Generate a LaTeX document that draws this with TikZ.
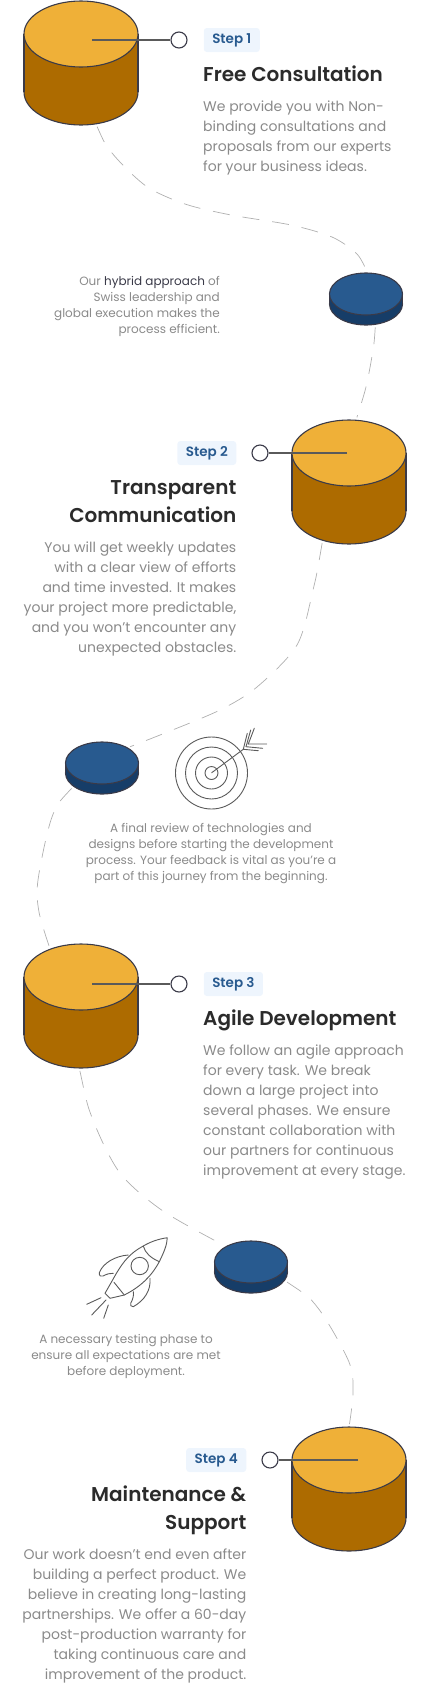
\documentclass[tikz,border=0pt]{standalone}
\usepackage{fontspec}
\setmainfont{Poppins}
\newfontfamily\semifont{Poppins SemiBold}
\usetikzlibrary{positioning,shapes.geometric}
\definecolor{sun}{HTML}{EFB038}
\definecolor{ochre}{HTML}{AD6B00}
\definecolor{sea}{HTML}{285A8F}
\definecolor{navy}{HTML}{163D68}
\definecolor{ink}{HTML}{3A3A48}
\definecolor{pale}{HTML}{EEF5FD}
\definecolor{copy}{HTML}{8A8A8A}
\definecolor{head}{HTML}{2B2B2B}
\definecolor{sketch}{HTML}{5A5A5A}
\definecolor{dashgrey}{HTML}{B0B0B0}
\begin{document}
\begin{tikzpicture}
[x=1pt, y=-1pt]
\tikzstyle{drum}=[ellipse, draw=ink, line width=1.1pt, inner sep=0pt, outer sep=0pt, minimum width=114pt, minimum height=66pt]
\tikzstyle{disc}=[ellipse, draw=ink, line width=1.1pt, inner sep=0pt, outer sep=0pt, minimum width=73pt, minimum height=42pt]
\tikzstyle{ring}=[circle, draw=ink, fill=white, line width=1.1pt, inner sep=0pt, minimum size=16pt]
\tikzstyle{badge}=[fill=pale, rounded corners=3pt, text=sea, inner xsep=8.5pt, inner ysep=0pt, minimum height=24pt, font=\semifont\fontsize{13.5}{16}\selectfont]
\tikzstyle{title}=[text=head, inner sep=0pt, font=\semifont\fontsize{20}{28}\selectfont]
\tikzstyle{copytext}=[text=copy, inner sep=0pt, font=\fontsize{14}{20}\selectfont]
\tikzstyle{note}=[text=copy, inner sep=0pt, font=\fontsize{12}{16}\selectfont]
\tikzstyle{trail}=[draw=dashgrey, line width=.7pt, dash pattern=on 17pt off 13pt, shorten <=3pt, shorten >=3pt]
\tikzstyle{leader}=[draw=sketch, line width=1.4pt]
\tikzstyle{sketchline}=[draw=sketch, line width=.9pt, line join=round, line cap=round]

\useasboundingbox (0,0) rectangle (430,1684);

\foreach \n/\x/\y in {A/81/34, B/349/453, C/81/977, D/349/1460}{
	\node[drum, fill=ochre]	(foot\n)	at (\x,\y+58)	{};
	\node[drum, fill=sun, draw=none]	(top\n)	at (\x,\y)	{};
	\fill[ochre] (foot\n.west) rectangle (top\n.east);
	\draw[draw=ink, line width=1.1pt] (foot\n.west)--(top\n.west) (foot\n.east)--(top\n.east);
	\node[drum, fill=sun]	at (\x,\y)	{};
}
\foreach \n/\x/\y in {A/366/294, B/102/763, C/251/1262}{
	\node[disc, fill=navy]	(under\n)	at (\x,\y+10)	{};
	\node[disc, fill=sea, draw=none]	(face\n)	at (\x,\y)	{};
	\fill[navy] (under\n.west) rectangle (face\n.east);
	\draw[draw=ink, line width=1.1pt] (under\n.west)--(face\n.west) (under\n.east)--(face\n.east);
	\node[disc, fill=sea]	at (\x,\y)	{};
}

\draw[trail] plot[smooth] coordinates {(footA.-65) (112,153) (146,186) (185,204) (231,215) (291,225) (332,237) (357,254) (faceA.86)};
\draw[trail] plot[smooth] coordinates {(underA.-65) (373,350) (366,387) (topB.78)};
\draw[trail] plot[smooth] coordinates {(footB.-132) (313,590) (297,645) (257,687) (220,710) (165,733) (faceB.31)};
\draw[trail] plot[smooth] coordinates {(underB.205) (52,817) (38,880) (39,912) (topC.138)};
\draw[trail] plot[smooth] coordinates {(footC.-93) (93,1120) (120,1173) (163,1211) (faceC.148)};
\draw[trail] plot[smooth] coordinates {(underC.-14) (318,1308) (349,1362) (353,1393) (topD.90)};

\coordinate (hubA) at (92,40);
\coordinate (hubB) at (347,453);
\coordinate (hubC) at (92,984);
\coordinate (hubD) at (358,1460);

\node[ring]	(ringA)	at (179,40)	{};
\node[ring]	(ringB)	at (260,453)	{};
\node[ring]	(ringC)	at (179,984)	{};
\node[ring]	(ringD)	at (270,1460)	{};
\draw[leader] (hubA)--(ringA);
\draw[leader] (hubB)--(ringB);
\draw[leader] (hubC)--(ringC);
\draw[leader] (hubD)--(ringD);

\node[badge]	(stepA)	[right=16pt of ringA]	{Step 1};
\node[badge]	(stepB)	[left=15pt of ringB]	{Step 2};
\node[badge]	(stepC)	[right=16pt of ringC]	{Step 3};
\node[badge]	(stepD)	[left=15pt of ringD]	{Step 4};

\node[title, anchor=base west]	(headA)	at (203,81)	{Free Consultation};
\node[title, anchor=base east, align=right]	(headB)	at (236.5,522)	{Transparent\\Communication};
\node[title, anchor=base west]	(headC)	at (203,1025)	{Agile Development};
\node[title, anchor=base east, align=right]	(headD)	at (246.5,1529)	{Maintenance \&\\Support};

\node[copytext, anchor=base west, align=left]	(copyA)	at (203,171)	{We provide you with Non-\\binding consultations and\\proposals from our experts\\for your business ideas.};
\node[copytext, anchor=base east, align=right]	(copyB)	at (236.5,652)	{You will get weekly updates\\with a clear view of efforts\\and time invested. It makes\\your project more predictable,\\and you won’t encounter any\\unexpected obstacles.};
\node[copytext, anchor=base west, align=left]	(copyC)	at (203,1175)	{We follow an agile approach\\for every task. We break\\down a large project into\\several phases. We ensure\\constant collaboration with\\our partners for continuous\\improvement at every stage.};
\node[copytext, anchor=base east, align=right]	(copyD)	at (246.5,1679)	{Our work doesn’t end even after\\building a perfect product. We\\believe in creating long-lasting\\partnerships. We offer a 60-day\\post-production warranty for\\taking continuous care and\\improvement of the product.};

\node[note, anchor=base east, align=right]	(noteA)	at (220,333)	{Our \textcolor{ink}{hybrid approach} of\\Swiss leadership and\\global execution makes the\\process efficient.};
\node[note, anchor=base, align=center]	(noteB)	at (211,880)	{A final review of technologies and\\designs before starting the development\\process. Your feedback is vital as you’re a\\part of this journey from the beginning.};
\node[note, anchor=base, align=center]	(noteC)	at (126,1375)	{A necessary testing phase to\\ensure all expectations are met\\before deployment.};

\foreach \r in {36,26,16,6.5}
	\draw[sketchline] (211.5,773) circle[radius=\r pt];
\draw[sketchline] (211.7,772.7)--(243.3,749.3);
\draw[sketchline] (243.3,749.3)--(247.3,733.3) (246,746.7)--(250.7,730) (248.3,744)--(254.3,728.3);
\draw[sketchline] (243.3,749.3)--(258.3,750.7) (246,746.7)--(262.7,748.3) (248.3,744)--(266.7,744);

\draw[sketchline] (167.3,1237.7) .. controls (158,1239) and (150,1242) .. (143.3,1246) .. controls (130,1253) and (123,1262) .. (116,1274) -- (105,1293.3) -- (110,1298.3) -- (124.3,1295) .. controls (140,1287) and (151,1277) .. (159.3,1261.7) .. controls (164,1252) and (167,1245) .. (167.3,1237.7);
\draw[sketchline] (143.3,1246) .. controls (145,1253) and (151,1258) .. (159.3,1261.7);
\draw[sketchline] (114,1282.3)--(124.3,1295);
\draw[sketchline] (139.7,1266) circle[radius=8.7pt];
\draw[sketchline] (128.3,1255) .. controls (115,1256) and (103,1263) .. (99.3,1272.7) .. controls (99,1276) and (101,1277) .. (103,1276) .. controls (107,1274) and (110,1273) .. (113.3,1273.3);
\draw[sketchline] (150,1278.3) .. controls (151,1290) and (145,1300) .. (133.3,1306.7) .. controls (131,1307) and (130,1305) .. (130.7,1303.3) .. controls (133,1299) and (134,1295) .. (133.3,1291.7);
\draw[sketchline] (86.7,1304.3)--(101,1297.7) (91.7,1315)--(106,1300) (103.7,1318.3)--(108.3,1305);

\end{tikzpicture}
\end{document}
